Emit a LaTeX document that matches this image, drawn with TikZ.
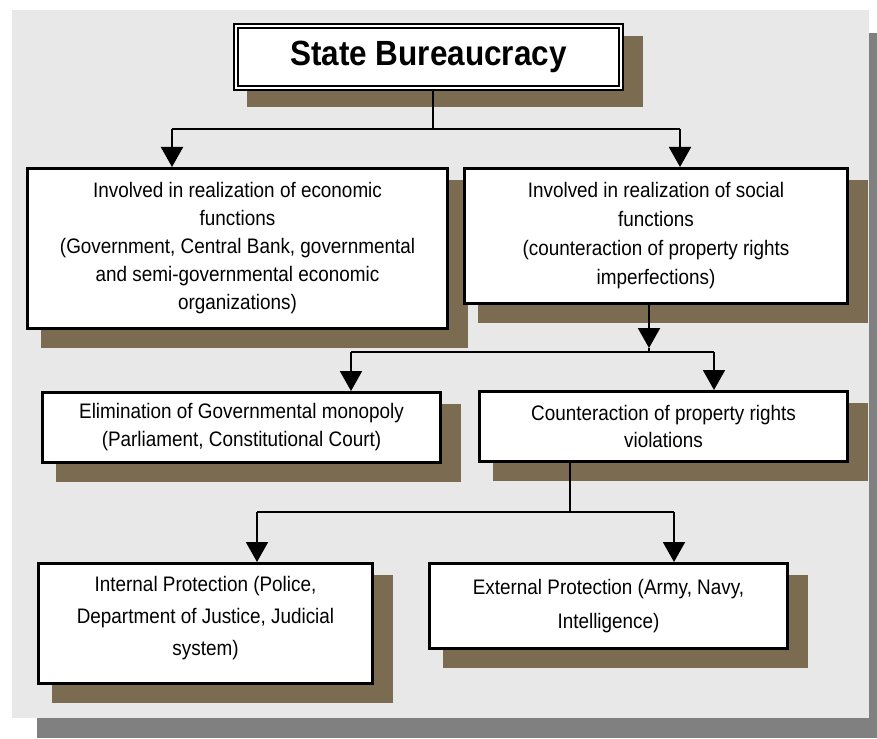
\documentclass[tikz,border=0pt]{standalone}
\usepackage{fontspec}
\setmainfont{Liberation Sans}[FakeStretch=0.9]
\usetikzlibrary{arrows.meta,calc}
\definecolor{panelc}{RGB}{232,232,232}
\definecolor{shadc}{RGB}{123,107,80}
\definecolor{outc}{RGB}{128,128,128}
\pgfdeclarelayer{bglayer}
\pgfdeclarelayer{shlayer}
\pgfsetlayers{bglayer,shlayer,main}
\begin{document}
\begin{tikzpicture}[x=1pt,y=-1pt,
  box/.style={draw, line width=3pt, fill=white, align=center, inner sep=0pt,
    font=\fontsize{21}{28}\selectfont},
  titlebox/.style={draw, line width=2pt, double=white, double distance=2pt, fill=white,
    inner sep=0pt, font=\fontsize{35}{40}\selectfont\bfseries},
  conn/.style={line width=2pt},
  arr/.style={line width=2pt, -{Triangle[width=22pt,length=20pt]}},
  shadowfill/.style={fill=shadc}
]
\useasboundingbox (0,0) rectangle (877,738);
\begin{pgfonlayer}{bglayer}
  \fill[white] (0,0) rectangle (877,738);
  \fill[outc] (37,33) rectangle (877,738);
  \fill[panelc] (12,10) rectangle (869,718);
\end{pgfonlayer}

\node[titlebox, minimum width=385pt, minimum height=62pt] (title) at (428.5,57) {State Bureaucracy};

\node[box, minimum width=420pt, minimum height=160pt] (b1) at (237.5,248.5)
  {Involved in realization of economic\\functions\\(Government, Central Bank, governmental\\and semi-governmental economic\\organizations)};
\node[box, minimum width=383pt, minimum height=135pt, font=\fontsize{21}{29}\selectfont] (b2) at (656,236)
  {Involved in realization of social\\functions\\(counteraction of property rights\\imperfections)};
\node[box, minimum width=398pt, minimum height=70pt] (b3) at (241.5,427.5)
  {Elimination of Governmental monopoly\\(Parliament, Constitutional Court)};
\node[box, minimum width=368pt, minimum height=70pt, font=\fontsize{21}{27}\selectfont] (b4) at (663.5,426.5)
  {Counteraction of property rights\\violations};
\node[box, minimum width=334pt, minimum height=120pt, font=\fontsize{21}{32}\selectfont] (b5) at (205.5,623.5)
  {Internal Protection (Police,\\Department of Justice, Judicial\\system)\rule[-16pt]{0pt}{16pt}};
\node[box, minimum width=358pt, minimum height=85pt, font=\fontsize{21}{34}\selectfont] (b6) at (608.5,606)
  {External Protection (Army, Navy,\\Intelligence)};

\begin{pgfonlayer}{shlayer}
  \fill[shadowfill] ($(title.north west)+(12,11)$) rectangle ($(title.south east)+(21,18)$);
  \foreach \n in {b1,b2,b3,b4,b5,b6}
    \fill[shadowfill] ($(\n.north west)+(14.5,12.5)$) rectangle ($(\n.south east)+(18.5,17.5)$);
\end{pgfonlayer}

% level 1
\coordinate (j1) at (433,129);
\coordinate (a1) at (172,129);
\coordinate (a2) at (680,129);
\draw[conn] (title.south -| j1) -- (j1);
\draw[conn] (a1) -- (a2);
\draw[arr] (a1) -- (a1 |- b1.north);
\draw[arr] (a2) -- (a2 |- b2.north);

% level 2
\coordinate (j2) at (649,352);
\coordinate (t2) at (649,348);
\coordinate (a3) at (351,352);
\coordinate (a4) at (714,352);
\draw[conn] (t2) -- (j2);
\draw[arr] (b2.south -| j2) -- (t2);
\draw[conn] (a3) -- (a4);
\draw[arr] (a3) -- (a3 |- b3.north);
\draw[arr] (a4) -- (a4 |- b4.north);

% level 3
\coordinate (j3) at (570,512);
\coordinate (a5) at (257,512);
\coordinate (a6) at (674,512);
\draw[conn] (b4.south -| j3) -- (j3);
\draw[conn] (a5) -- (a6);
\draw[arr] (a5) -- (a5 |- b5.north);
\draw[arr] (a6) -- (a6 |- b6.north);
\end{tikzpicture}
\end{document}
